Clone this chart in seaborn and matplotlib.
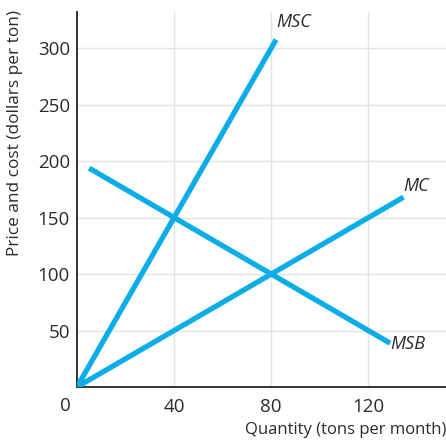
import pandas as pd
import matplotlib
matplotlib.use("Agg")
import matplotlib.pyplot as plt
import seaborn as sns

# -----------------------------
# Data
# -----------------------------
msc_q = [0, 82]
msc_p = [0, 307.5]
mc_q = [0, 134.5]
mc_p = [0, 168]
msb_q = [5, 129]
msb_p = [193.75, 38.75]

curve_names = ["MSC", "MC", "MSB"]
x_ticks = [40, 80, 120]
y_ticks = [50, 100, 150, 200, 250, 300]

df = pd.concat([
    pd.DataFrame({"q": msc_q, "p": msc_p, "curve": "MSC"}),
    pd.DataFrame({"q": mc_q, "p": mc_p, "curve": "MC"}),
    pd.DataFrame({"q": msb_q, "p": msb_p, "curve": "MSB"}),
])

sns.set_style("white")
plt.rcParams["font.family"] = ["Open Sans", "DejaVu Sans"]

BLUE = "#0AADE8"
TXT = "#2b2b2b"

fig = plt.figure(figsize=(4.46, 4.40), dpi=100)
ax = fig.add_axes([0.1726, 0.1205, 0.8274, 0.8523])

for x in x_ticks:
    ax.axvline(x, color="#e3e3e3", lw=1, zorder=0)
for y in y_ticks:
    ax.axhline(y, color="#e3e3e3", lw=1, zorder=0)

sns.lineplot(data=df, x="q", y="p", hue="curve", palette=[BLUE] * 3,
             lw=3.8, legend=False, ax=ax, sort=False, zorder=3)
for line in ax.get_lines()[-3:]:
    line.set_solid_capstyle("butt")

ax.set_xlim(0, 152)
ax.set_ylim(0, 332)
ax.set_xticks(x_ticks)
ax.set_yticks(y_ticks)
ax.tick_params(axis="both", direction="in", length=11, width=1.2,
               color="#333333", labelsize=13.5, labelcolor=TXT, pad=5)
ax.tick_params(axis="x", pad=8)

for side in ["top", "right"]:
    ax.spines[side].set_visible(False)
for side in ["left", "bottom"]:
    ax.spines[side].set_color("#333333")
    ax.spines[side].set_linewidth(1.4)

ax.text(-0.016, -0.028, "0", transform=ax.transAxes, ha="right", va="top",
        fontsize=13.5, color=TXT)

ax.set_xlabel("Quantity (tons per month)", fontsize=12, color=TXT,
              loc="right", labelpad=4)
ax.set_ylabel("Price and cost (dollars per ton)", fontsize=12.4, color=TXT,
              loc="top")
ax.yaxis.set_label_coords(-0.145, 1.005)

ax.text(82.2, 315, "MSC", fontsize=13, style="italic", color=TXT,
        ha="left", va="bottom")
ax.text(134.5, 170, "MC", fontsize=13, style="italic", color=TXT,
        ha="left", va="bottom")
ax.text(129, 38, "MSB", fontsize=13, style="italic", color=TXT,
        ha="left", va="center")

fig.savefig("out.png", dpi=100)
